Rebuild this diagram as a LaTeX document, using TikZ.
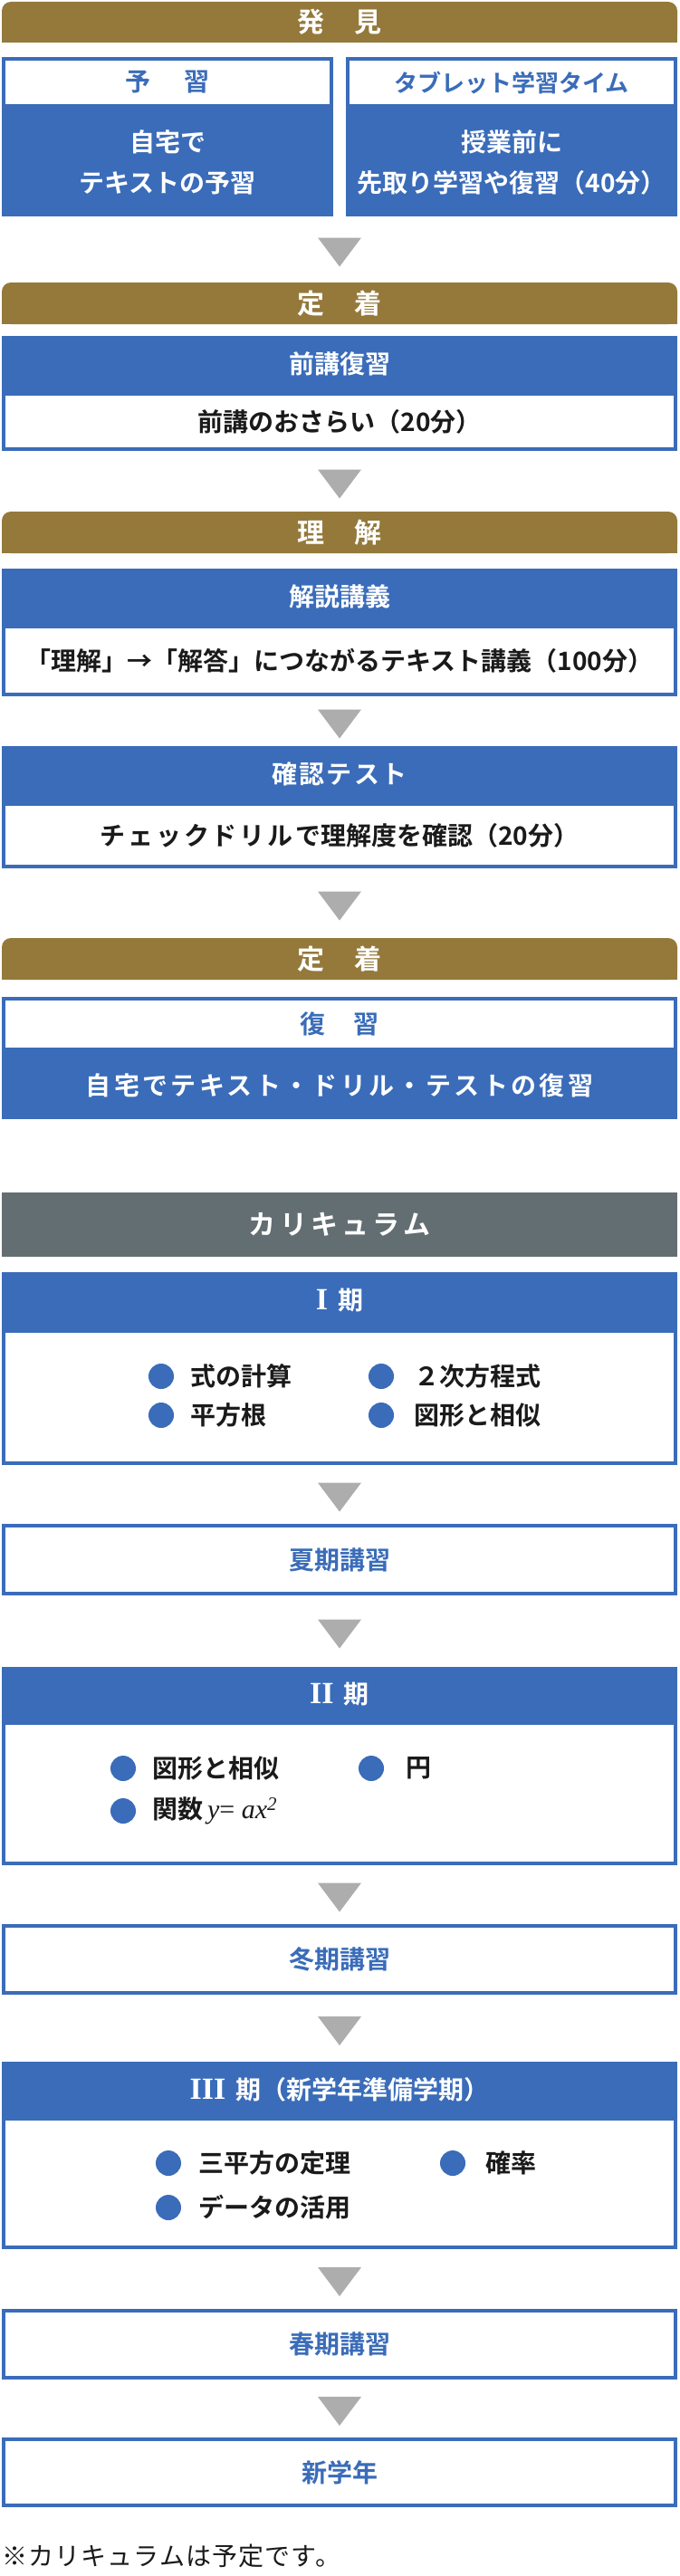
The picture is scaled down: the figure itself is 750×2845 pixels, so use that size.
\documentclass[tikz,border=0pt]{standalone}
\usepackage{fontspec}
\setmainfont{Noto Sans CJK JP}[BoldFont={Noto Sans CJK JP Bold}]
\newfontfamily\romfont{Liberation Serif}
\usetikzlibrary{calc}
\usetikzlibrary{positioning}
\usetikzlibrary{backgrounds}

\definecolor{gold}{HTML}{94793B}
\definecolor{myblue}{HTML}{3A6CB9}
\definecolor{slate}{HTML}{636E72}
\definecolor{arrowgray}{HTML}{ADADAD}
\definecolor{ink}{HTML}{1A1A1A}

\newcommand{\bandfont}{\bfseries\fontsize{30}{36}\selectfont}
\newcommand{\boxfont}{\bfseries\fontsize{28}{45}\selectfont}
\newcommand{\tabfont}{\bfseries\fontsize{26}{32}\selectfont}
\newcommand{\spaced}[1]{\addfontfeature{LetterSpace=#1}}
\newcommand{\numeral}[1]{{\romfont\bfseries\fontsize{34}{40}\selectfont #1}}

\tikzset{
 band/.style={fill=gold, text=white, font=\bandfont, minimum width=746pt, inner sep=0pt, outer sep=0pt, rounded corners=10pt},
 full/.style={minimum width=742pt},
 half/.style={minimum width=362pt},
 bluehead/.style={draw=myblue, fill=myblue, line width=4pt, text=white, font=\boxfont, inner sep=0pt, full},
 whitehead/.style={draw=myblue, fill=white, line width=4pt, text=myblue, font=\boxfont, inner sep=0pt, full},
 bluebody/.style={draw=myblue, fill=myblue, line width=4pt, text=white, font=\boxfont, inner sep=0pt, full},
 whitebody/.style={draw=myblue, fill=white, line width=4pt, text=ink, font=\boxfont, inner sep=0pt, full},
 dot/.style={circle, fill=myblue, minimum size=28pt, inner sep=0pt},
 item/.style={font=\boxfont, text=ink, inner sep=0pt},
 downtri/.pic={\fill[arrowgray] (-24,-16) -- (24,-16) -- (0,16) -- cycle;}
}

\begin{document}
\begin{tikzpicture}[x=1pt, y=-1pt]
\useasboundingbox (0,0) rectangle (750,2845);

% 発見
\node[band, anchor=north, minimum height=45pt] (h1) at (375,2) {発\hspace{1.1em}見};
\node[whitehead, half, anchor=north, minimum height=52pt] (ya) at (185,63) {予\hspace{1.3em}習};
\node[bluebody, half, below=0pt of ya, minimum height=116pt, align=center] (yb) {自宅で\\テキストの予習};
\node[whitehead, half, anchor=north, minimum height=52pt, font=\tabfont] (ta) at (565,63) {タブレット学習タイム};
\node[bluebody, half, below=0pt of ta, minimum height=116pt, align=center] (tb) {授業前に\\先取り学習や復習（40分）};

% 定着
\node[band, anchor=north, minimum height=46pt] (h2) at (375,312) {定\hspace{1.1em}着};
\node[bluehead, anchor=north, minimum height=58pt] (za) at (375,371) {前講復習};
\node[whitebody, below=0pt of za, minimum height=61pt] (zb) {前講のおさらい（20分）};

% 理解
\node[band, anchor=north, minimum height=46pt] (h3) at (375,565) {理\hspace{1.1em}解};
\node[bluehead, anchor=north, minimum height=58pt] (ka) at (375,628) {解説講義};
\node[whitebody, below=0pt of ka, minimum height=75pt] (kb) {「理解」→「解答」につながるテキスト講義（100分）};
\node[bluehead, anchor=north, minimum height=58pt] (ca) at (375,824) {\spaced{8}確認テスト};
\node[whitebody, below=0pt of ca, minimum height=69pt] (cb) {{\spaced{10}チェックドリルで}理解度を確認（20分）};

% 定着
\node[band, anchor=north, minimum height=46pt] (h4) at (375,1036) {定\hspace{1.1em}着};
\node[whitehead, anchor=north, minimum height=56pt] (fa) at (375,1101) {復\hspace{1.1em}習};
\node[bluebody, below=0pt of fa, minimum height=71pt] (fb) {\spaced{12}自宅でテキスト・ドリル・テストの復習};

% カリキュラム
\node[band, fill=slate, rounded corners=0pt, anchor=north, minimum height=71pt] (cur) at (375,1317) {\spaced{14}カリキュラム};

\node[bluehead, anchor=north, minimum height=59pt] (p1h) at (375,1405) {\numeral{I}\hspace{0.4em}期};
\node[whitebody, below=0pt of p1h, minimum height=146pt] (p1b) {};
\node[dot] (d11) at (178,1520) {};
\node[item, right=18pt of d11] {式の計算};
\node[dot] (d12) at (178,1563) {};
\node[item, right=18pt of d12] {平方根};
\node[dot] (d13) at (421,1520) {};
\node[item, right=22pt of d13] {２次方程式};
\node[dot] (d14) at (421,1563) {};
\node[item, right=22pt of d14] {図形と相似};

\node[whitehead, anchor=north, minimum height=75pt] (natsu) at (375,1683) {夏期講習};

\node[bluehead, anchor=north, minimum height=56pt] (p2h) at (375,1841) {\numeral{II}\hspace{0.4em}期};
\node[whitebody, below=0pt of p2h, minimum height=155pt] (p2b) {};
\node[dot] (d21) at (136,1953) {};
\node[item, right=18pt of d21] {図形と相似};
\node[dot] (d22) at (136,2000) {};
\node[item, right=18pt of d22] {関数\,{\romfont\mdseries\fontsize{30}{36}\selectfont\itshape y}{\romfont\mdseries\fontsize{30}{36}\selectfont = \itshape ax\textsuperscript{2}}};
\node[dot] (d23) at (410,1953) {};
\node[item, right=24pt of d23] {円};

\node[whitehead, anchor=north, minimum height=74pt] (fuyu) at (375,2125) {冬期講習};

\node[bluehead, anchor=north, minimum height=57pt] (p3h) at (375,2277) {\numeral{III}\hspace{0.4em}期（新学年準備学期）};
\node[whitebody, below=0pt of p3h, minimum height=142pt] (p3b) {};
\node[dot] (d31) at (186,2389) {};
\node[item, right=19pt of d31] {三平方の定理};
\node[dot] (d32) at (186,2438) {};
\node[item, right=19pt of d32] {データの活用};
\node[dot] (d33) at (500,2389) {};
\node[item, right=22pt of d33] {確率};

\node[whitehead, anchor=north, minimum height=74pt] (haru) at (375,2550) {春期講習};
\node[whitehead, anchor=north, minimum height=73pt] (shin) at (375,2692) {新学年};

\node[anchor=west, inner sep=0pt, text=ink, font=\fontsize{28}{34}\selectfont\spaced{4}] (note) at (2,2823) {※カリキュラムは予定です。};

% arrows
\foreach \u/\v in {yb/h2, zb/h3, kb/ca, cb/h4, p1b/natsu, natsu/p2h, p2b/fuyu, fuyu/p3h, p3b/haru, haru/shin}
 \pic at ($(\u.south -| \v.north)!.5!(\v.north)+(0,3)$) {downtri};

\begin{scope}[on background layer]
\foreach \h in {h1,h2,h3,h4}
 \fill[gold] (\h.west) rectangle (\h.south east);
\end{scope}
\end{tikzpicture}
\end{document}
